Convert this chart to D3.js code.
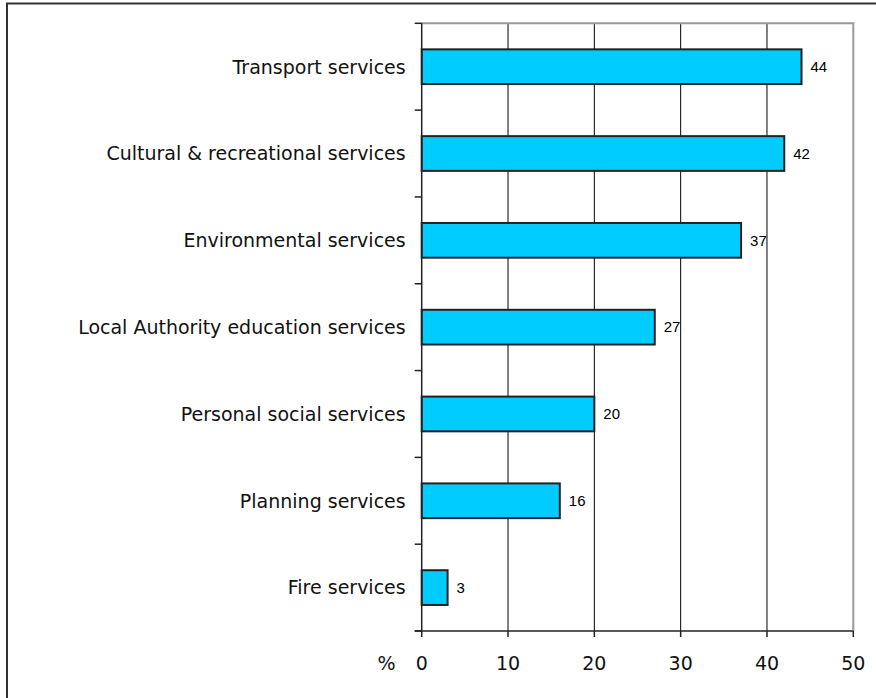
<!DOCTYPE html>
<html>
<head>
<meta charset="utf-8">
<script src="https://cdn.jsdelivr.net/npm/d3@7"></script>
<style>
  html, body { margin: 0; padding: 0; background: #fff; }
  svg { display: block; }
</style>
</head>
<body>
<svg id="chart" width="876" height="698"></svg>
<script>
// Share of respondents (%) by local service
const categories = [
  "Transport services",
  "Cultural & recreational services",
  "Environmental services",
  "Local Authority education services",
  "Personal social services",
  "Planning services",
  "Fire services"
];
const values = [44, 42, 37, 27, 20, 16, 3];
const xTicks = [0, 10, 20, 30, 40, 50];
const axisUnit = "%";

const svg = d3.select("#chart");
const plot = { left: 421.7, right: 853.3, top: 23.3, bottom: 631 };

const x = d3.scaleLinear().domain([0, 50]).range([plot.left, plot.right]);
const y = d3.scaleBand()
  .domain(categories)
  .range([plot.top, plot.bottom])
  .paddingInner(0.6)
  .paddingOuter(0.3);

// Outer frame (runs off the right and bottom edges)
svg.append("rect")
  .attr("x", 7).attr("y", 3.5)
  .attr("width", 900).attr("height", 720)
  .attr("fill", "none")
  .attr("stroke", "#333")
  .attr("stroke-width", 2);

// Vertical gridlines
svg.append("g")
  .selectAll("line")
  .data(xTicks.filter(t => t > 0 && t < 50))
  .join("line")
  .attr("x1", d => x(d)).attr("x2", d => x(d))
  .attr("y1", plot.top).attr("y2", plot.bottom)
  .attr("stroke", "#000")
  .attr("stroke-width", 1);

// Plot-area border (top and right)
svg.append("path")
  .attr("d", `M${plot.left},${plot.top}H${plot.right}V${plot.bottom}`)
  .attr("fill", "none")
  .attr("stroke", "#999")
  .attr("stroke-width", 2);

// Bars
svg.append("g")
  .selectAll("rect")
  .data(values)
  .join("rect")
  .attr("x", x(0))
  .attr("y", (d, i) => y(categories[i]))
  .attr("width", d => x(d) - x(0))
  .attr("height", y.bandwidth())
  .attr("fill", "#00CCFF")
  .attr("stroke", "#222")
  .attr("stroke-width", 2);

// Value labels
svg.append("g")
  .selectAll("text")
  .data(values)
  .join("text")
  .attr("x", d => x(d) + 9)
  .attr("y", (d, i) => y(categories[i]) + y.bandwidth() / 2)
  .attr("dy", "0.35em")
  .attr("font-family", "Liberation Sans, Arial, sans-serif")
  .attr("font-size", 15)
  .attr("fill", "#000")
  .text(d => d);

// Left axis: line, ticks at category boundaries, labels
const yAxis = svg.append("g");
yAxis.append("line")
  .attr("x1", plot.left).attr("x2", plot.left)
  .attr("y1", plot.top).attr("y2", plot.bottom)
  .attr("stroke", "#222").attr("stroke-width", 1.5);
yAxis.selectAll("line.tick")
  .data(d3.range(categories.length + 1))
  .join("line")
  .attr("class", "tick")
  .attr("x1", plot.left - 7).attr("x2", plot.left)
  .attr("y1", i => plot.top + i * y.step())
  .attr("y2", i => plot.top + i * y.step())
  .attr("stroke", "#222").attr("stroke-width", 1.5);
yAxis.selectAll("text")
  .data(categories)
  .join("text")
  .attr("x", plot.left - 16)
  .attr("y", d => y(d) + y.bandwidth() / 2)
  .attr("dy", "0.36em")
  .attr("text-anchor", "end")
  .attr("font-family", "DejaVu Sans, Verdana, sans-serif")
  .attr("font-size", 19)
  .attr("fill", "#111")
  .text(d => d);

// Bottom axis
const xAxis = svg.append("g").attr("transform", `translate(0,${plot.bottom})`);
xAxis.append("line")
  .attr("x1", plot.left - 7).attr("x2", plot.right)
  .attr("y1", 0).attr("y2", 0)
  .attr("stroke", "#222").attr("stroke-width", 1.5);
xAxis.selectAll("line.tick")
  .data(xTicks)
  .join("line")
  .attr("class", "tick")
  .attr("x1", d => x(d)).attr("x2", d => x(d))
  .attr("y1", 0).attr("y2", 6)
  .attr("stroke", "#222").attr("stroke-width", 1.5);
xAxis.selectAll("text")
  .data(xTicks)
  .join("text")
  .attr("x", d => x(d))
  .attr("y", 39)
  .attr("text-anchor", "middle")
  .attr("font-family", "DejaVu Sans, Verdana, sans-serif")
  .attr("font-size", 19)
  .attr("fill", "#111")
  .text(d => d);
xAxis.append("text")
  .attr("x", 386.5)
  .attr("y", 39)
  .attr("text-anchor", "middle")
  .attr("font-family", "DejaVu Sans, Verdana, sans-serif")
  .attr("font-size", 19)
  .attr("fill", "#111")
  .text(axisUnit);
</script>
</body>
</html>
